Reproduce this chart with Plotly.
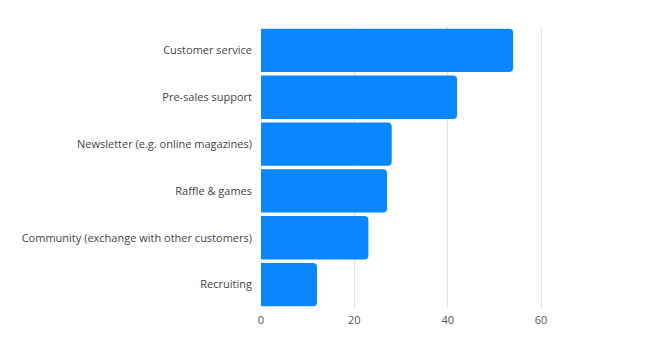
import plotly.graph_objects as go

categories = ["Customer service", "Pre-sales support", "Newsletter (e.g. online magazines)",
              "Raffle & games", "Community (exchange with other customers)", "Recruiting"]
values = [54, 42, 28, 27, 23, 12]
tick_vals = [0, 20, 40, 60]

fig = go.Figure(go.Bar(
    x=values, y=categories, orientation="h",
    marker=dict(color="#0A87FF", line=dict(width=0)),
    hoverinfo="x+y",
))

fig.update_layout(
    width=650, height=350,
    margin=dict(l=261, r=107, t=27, b=42),
    paper_bgcolor="white", plot_bgcolor="white",
    bargap=0.075,
    barcornerradius=4,
    font=dict(family="Open Sans", size=11, color="#4a4a4a"),
    showlegend=False,
)
fig.update_xaxes(range=[0, 60.4], tickvals=tick_vals, showgrid=True, gridcolor="#e3e3e3",
                 gridwidth=1, zeroline=False, showline=False, ticks="",
                 ticklabelstandoff=4,
                 tickfont=dict(size=11, color="#555555"))
fig.update_yaxes(autorange="reversed", showgrid=False, zeroline=False, showline=False,
                 ticks="", ticklabelstandoff=8, tickfont=dict(size=11, color="#444444"))

fig.write_html("out.html")
